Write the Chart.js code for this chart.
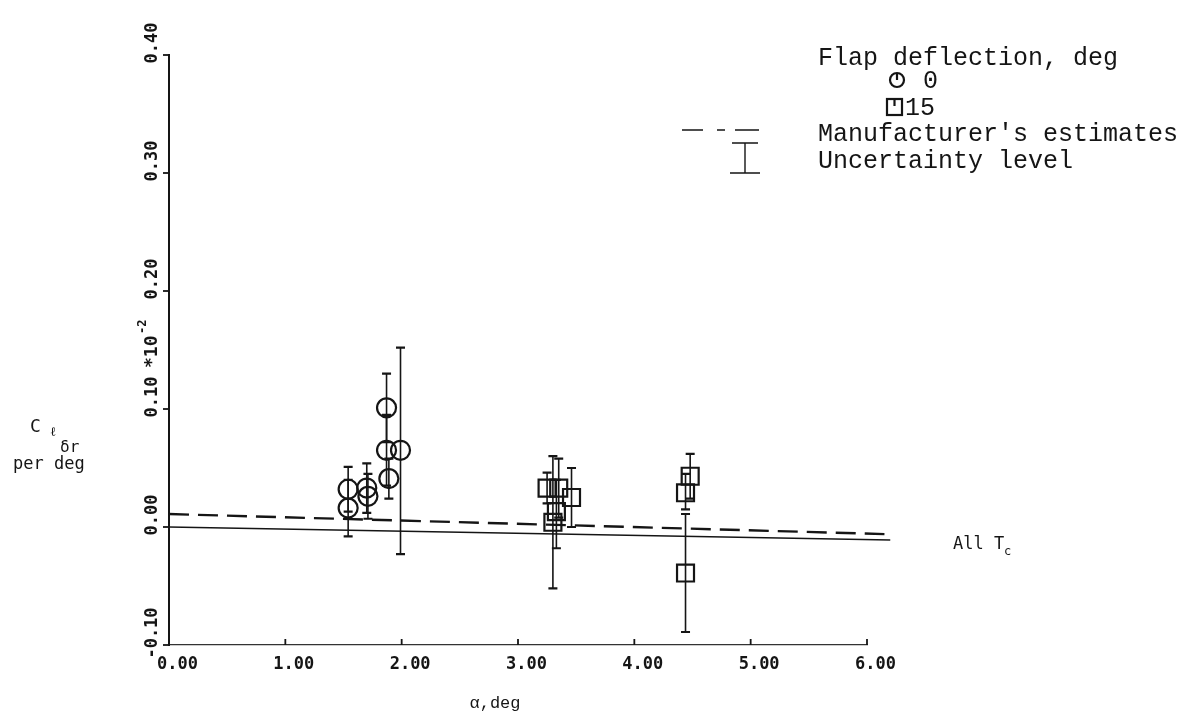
<!DOCTYPE html>
<html><head><meta charset="utf-8">
<script src="https://cdn.jsdelivr.net/npm/chart.js@4"></script>
<style>html,body{margin:0;padding:0;background:#fff}#wrap{width:1185px;height:716px;position:relative}</style>
</head><body><div id="wrap"><canvas id="c" width="1185" height="716"></canvas></div>
<script>
// ---- data ----
const xTicks = [0, 1, 2, 3, 4, 5, 6];
const xTickLabels = ["0.00", "1.00", "2.00", "3.00", "4.00", "5.00", "6.00"];
const yTicks = [-0.1, 0, 0.1, 0.2, 0.3, 0.4];
const yTickLabels = ["-0.10", "0.00", "0.10", "0.20", "0.30", "0.40"];

// Flap deflection 0 deg (circles)
const flap0Alpha = [1.54, 1.54, 1.70, 1.71, 1.87, 1.87, 1.89, 1.99];
const flap0C     = [0.032, 0.016, 0.033, 0.026, 0.101, 0.065, 0.041, 0.065];
const flap0Hi    = [0.051, 0.040, 0.054, 0.045, 0.130, 0.095, 0.058, 0.152];
const flap0Lo    = [0.013, -0.008, 0.012, 0.007, 0.072, 0.035, 0.024, -0.023];

// Flap deflection 15 deg (squares)
const flap15Alpha = [3.25, 3.35, 3.46, 3.33, 3.30, 4.48, 4.44, 4.44];
const flap15C     = [0.033, 0.033, 0.025, 0.013, 0.004, 0.043, 0.029, -0.039];
const flap15Hi    = [0.046, 0.058, 0.050, 0.040, 0.060, 0.062, 0.045, 0.011];
const flap15Lo    = [0.020, 0.008, 0.000, -0.018, -0.052, 0.024, 0.015, -0.089];

// Manufacturer's estimates (dashed) and solid fairing
const estAlpha = [0, 6.15];
const estC     = [0.011, -0.006];
const fairAlpha = [0, 6.2];
const fairC     = [0.000, -0.011];

const INK = '#151515';
const toPts = (xs, ys) => xs.map((x, i) => ({x: x, y: ys[i]}));

const decor = {
  id: 'decor',
  beforeDatasetsDraw(chart) {
    const ctx = chart.ctx, xs = chart.scales.x, ys = chart.scales.y;
    ctx.save();
    ctx.strokeStyle = INK;
    const bars = (A, H, L) => {
      A.forEach((a, i) => {
        const px = xs.getPixelForValue(a);
        const t = ys.getPixelForValue(H[i]), b = ys.getPixelForValue(L[i]);
        ctx.lineWidth = 1.6;
        ctx.beginPath(); ctx.moveTo(px, t); ctx.lineTo(px, b); ctx.stroke();
        ctx.lineWidth = 2.2;
        ctx.beginPath(); ctx.moveTo(px - 4.5, t); ctx.lineTo(px + 4.5, t);
        ctx.moveTo(px - 4.5, b); ctx.lineTo(px + 4.5, b); ctx.stroke();
      });
    };
    bars(flap0Alpha, flap0Hi, flap0Lo);
    bars(flap15Alpha, flap15Hi, flap15Lo);
    ctx.restore();
  },
  afterDraw(chart) {
    const ctx = chart.ctx, xs = chart.scales.x, ys = chart.scales.y, ca = chart.chartArea;
    ctx.save();
    ctx.strokeStyle = INK; ctx.fillStyle = INK;
    // tick marks
    ctx.lineWidth = 1.8;
    yTicks.forEach(v => {
      const py = ys.getPixelForValue(v);
      ctx.beginPath(); ctx.moveTo(ca.left - 6, py); ctx.lineTo(ca.left, py); ctx.stroke();
    });
    xTicks.forEach(v => {
      const px = xs.getPixelForValue(v);
      ctx.beginPath(); ctx.moveTo(px, ca.bottom); ctx.lineTo(px, ca.bottom - 6); ctx.stroke();
    });
    // y tick labels (rotated)
    ctx.font = 'bold 17px "DejaVu Sans Mono"';
    ctx.textAlign = 'center'; ctx.textBaseline = 'middle';
    yTicks.forEach((v, i) => {
      const py = ys.getPixelForValue(v);
      ctx.save(); ctx.translate(153, py - 12); ctx.rotate(-Math.PI / 2);
      ctx.fillText(yTickLabels[i], 0, 0); ctx.restore();
    });
    // x tick labels
    ctx.textAlign = 'left';
    xTicks.forEach((v, i) => {
      const px = xs.getPixelForValue(v);
      ctx.fillText(xTickLabels[i], px - 12, ca.bottom + 20);
    });
    // x title
    ctx.font = '17px "Liberation Mono"';
    ctx.textAlign = 'center';
    ctx.fillText('\u03b1,deg', 495, 703);
    // y multiplier label (rotated)
    ctx.save(); ctx.translate(152, 340); ctx.rotate(-Math.PI / 2);
    ctx.font = 'bold 18px "DejaVu Sans Mono"';
    ctx.textAlign = 'left';
    ctx.fillText('*10', -28, 0);
    ctx.font = 'bold 12px "DejaVu Sans Mono"';
    ctx.fillText('-2', 6, -9);
    ctx.restore();
    // C_l_dr per deg
    ctx.textAlign = 'left';
    ctx.font = '18px "DejaVu Sans Mono"';
    ctx.fillText('C', 30, 427);
    ctx.font = '13px "DejaVu Sans Mono"';
    ctx.fillText('\u2113', 50, 433);
    ctx.font = '16px "DejaVu Sans Mono"';
    ctx.fillText('\u03b4r', 60, 448);
    ctx.font = '17px "DejaVu Sans Mono"';
    ctx.fillText('per deg', 13, 465);
    // All T_c
    ctx.font = '17px "DejaVu Sans Mono"';
    ctx.fillText('All T', 953, 545);
    ctx.font = '12px "DejaVu Sans Mono"';
    ctx.fillText('c', 1004, 552);
    // legend
    ctx.font = '25px "Liberation Mono"';
    ctx.fillText('Flap deflection, deg', 818, 58);
    ctx.fillText('0', 923, 81);
    ctx.fillText('15', 905, 108);
    ctx.fillText("Manufacturer's estimates", 818, 134);
    ctx.fillText('Uncertainty level', 818, 161);
    ctx.lineWidth = 2.2;
    ctx.beginPath(); ctx.arc(897, 80, 7, 0, Math.PI * 2); ctx.stroke();
    ctx.beginPath(); ctx.moveTo(897, 73); ctx.lineTo(897, 80); ctx.stroke();
    ctx.strokeRect(887, 99, 15, 16);
    ctx.beginPath(); ctx.moveTo(894.5, 99); ctx.lineTo(894.5, 106); ctx.stroke();
    ctx.lineWidth = 1.6;
    ctx.setLineDash([21, 14, 8, 10, 24]);
    ctx.beginPath(); ctx.moveTo(682, 130); ctx.lineTo(759, 130); ctx.stroke();
    ctx.setLineDash([]);
    ctx.lineWidth = 1.4;
    ctx.beginPath();
    ctx.moveTo(745, 143); ctx.lineTo(745, 173);
    ctx.moveTo(732, 143); ctx.lineTo(758, 143);
    ctx.moveTo(730, 173); ctx.lineTo(760, 173);
    ctx.stroke();
    ctx.restore();
  }
};

new Chart(document.getElementById('c'), {
  type: 'scatter',
  data: {
    datasets: [
      { label: '0', data: toPts(flap0Alpha, flap0C), pointStyle: 'circle', pointRadius: 9.5,
        borderColor: INK, backgroundColor: 'rgba(0,0,0,0)', borderWidth: 2.2, showLine: false },
      { label: '15', data: toPts(flap15Alpha, flap15C), pointStyle: 'rect', pointRadius: 12,
        borderColor: INK, backgroundColor: 'rgba(0,0,0,0)', borderWidth: 2.2, showLine: false },
      { label: "Manufacturer's estimates", data: toPts(estAlpha, estC), showLine: true, pointRadius: 0,
        borderColor: INK, borderWidth: 2.4, borderDash: [20, 9], clip: false },
      { label: 'fairing', data: toPts(fairAlpha, fairC), showLine: true, pointRadius: 0,
        borderColor: INK, borderWidth: 1.4, clip: false }
    ]
  },
  options: {
    responsive: false, animation: false, devicePixelRatio: 1,
    layout: { padding: { left: 169, top: 55, right: 318, bottom: 71 } },
    plugins: { legend: { display: false }, tooltip: { enabled: false } },
    scales: {
      x: { type: 'linear', min: 0, max: 6, ticks: { display: false }, grid: { display: false },
           border: { display: true, color: '#333', width: 1.2 }, afterFit: s => { s.height = 0; } },
      y: { type: 'linear', min: -0.1, max: 0.4, ticks: { display: false }, grid: { display: false },
           border: { display: true, color: INK, width: 2 }, afterFit: s => { s.width = 0; } }
    }
  },
  plugins: [decor]
});
</script></body></html>
